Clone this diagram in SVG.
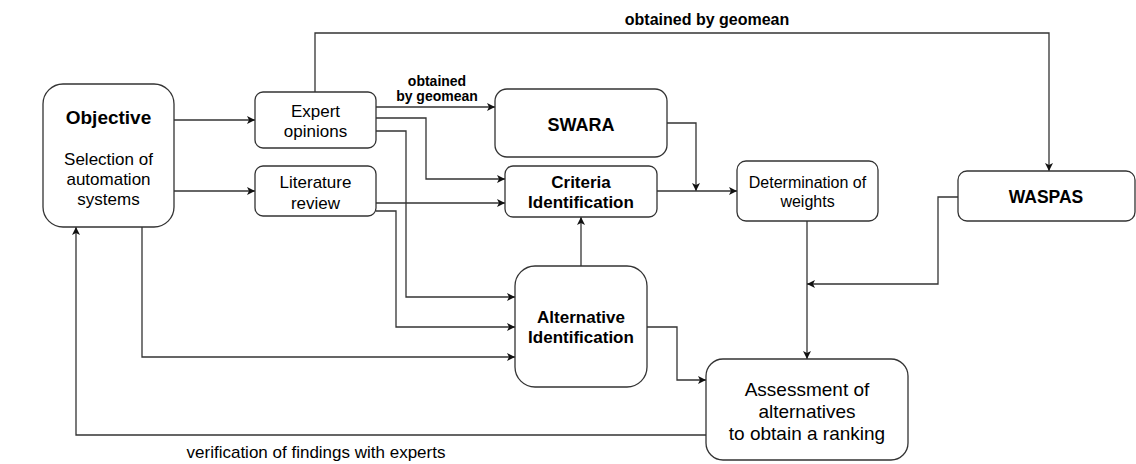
<svg xmlns="http://www.w3.org/2000/svg" width="1136" height="464" viewBox="0 0 1136 464">
<style>
.box{fill:#fff;stroke:#333;stroke-width:1.3}
.t{font-family:"Liberation Sans",Arial,sans-serif;fill:#000;text-anchor:middle}
.b{font-weight:bold}
.c{fill:none;stroke:#333;stroke-width:1.3}
</style>
<defs>
<marker id="ar" viewBox="0 0 10 10" refX="10" refY="5" markerWidth="8" markerHeight="8" markerUnits="userSpaceOnUse" orient="auto">
<path d="M0,0 L10,5 L0,10 L2.5,5 Z" fill="#111"/>
</marker>
</defs>
<rect width="1136" height="464" fill="#fff"/>
<g id="connectors">
<path class="c" d="M174 120 H255" marker-end="url(#ar)"/>
<path class="c" d="M174 191 H255" marker-end="url(#ar)"/>
<path class="c" d="M315 92 V33 H1049 V171" marker-end="url(#ar)"/>
<path class="c" d="M376 107 H495" marker-end="url(#ar)"/>
<path class="c" d="M376 118 H426 V179 H505" marker-end="url(#ar)"/>
<path class="c" d="M376 131 H406 V297 H515" marker-end="url(#ar)"/>
<path class="c" d="M376 203 H505" marker-end="url(#ar)"/>
<path class="c" d="M376 211 H396 V327 H515" marker-end="url(#ar)"/>
<path class="c" d="M142 227 V357 H515" marker-end="url(#ar)"/>
<path class="c" d="M581 266 V217" marker-end="url(#ar)"/>
<path class="c" d="M667 123 H696 V191" marker-end="url(#ar)"/>
<path class="c" d="M657 191 H737" marker-end="url(#ar)"/>
<path class="c" d="M807 221 V359" marker-end="url(#ar)"/>
<path class="c" d="M958 197 H938 V284 H807" marker-end="url(#ar)"/>
<path class="c" d="M647 327 H677 V380 H706" marker-end="url(#ar)"/>
<path class="c" d="M706 435 H76 V227" marker-end="url(#ar)"/>
<text class="t b" x="707" y="25" font-size="16">obtained by geomean</text>
<text class="t b" x="437" y="86" font-size="14">obtained</text>
<text class="t b" x="437" y="101" font-size="14">by geomean</text>
<text class="t" x="316" y="458" font-size="17">verification of findings with experts</text>
</g>
<g id="objective">
<rect class="box" x="43" y="84" width="131" height="143" rx="20"/>
<text class="t b" x="108.5" y="124" font-size="19">Objective</text>
<text class="t" x="108.5" y="165" font-size="17">Selection of</text>
<text class="t" x="108.5" y="185" font-size="17">automation</text>
<text class="t" x="108.5" y="205" font-size="17">systems</text>
</g>
<g id="expert">
<rect class="box" x="255" y="92" width="121" height="56" rx="8"/>
<text class="t" x="315.5" y="117" font-size="17">Expert</text>
<text class="t" x="315.5" y="137" font-size="17">opinions</text>
</g>
<g id="literature">
<rect class="box" x="255" y="166" width="121" height="50" rx="8"/>
<text class="t" x="315.5" y="188" font-size="17">Literature</text>
<text class="t" x="315.5" y="209" font-size="17">review</text>
</g>
<g id="swara">
<rect class="box" x="495" y="89" width="172" height="68" rx="12"/>
<text class="t b" x="581" y="131" font-size="18">SWARA</text>
</g>
<g id="criteria">
<rect class="box" x="505" y="166" width="152" height="51" rx="8"/>
<text class="t b" x="581" y="188" font-size="17">Criteria</text>
<text class="t b" x="581" y="208" font-size="17">Identification</text>
</g>
<g id="determination">
<rect class="box" x="737" y="161" width="141" height="60" rx="9"/>
<text class="t" x="807.5" y="188" font-size="16">Determination of</text>
<text class="t" x="807.5" y="207" font-size="16">weights</text>
</g>
<g id="waspas">
<rect class="box" x="958" y="171" width="177" height="50" rx="9"/>
<text class="t b" x="1046" y="203" font-size="17.5">WASPAS</text>
</g>
<g id="alternative">
<rect class="box" x="515" y="266" width="132" height="121" rx="20"/>
<text class="t b" x="581" y="323" font-size="17">Alternative</text>
<text class="t b" x="581" y="343" font-size="17">Identification</text>
</g>
<g id="assessment">
<rect class="box" x="706" y="359" width="202" height="101" rx="17"/>
<text class="t" x="807" y="396" font-size="19">Assessment of</text>
<text class="t" x="807" y="418" font-size="19">alternatives</text>
<text class="t" x="807" y="440" font-size="19">to obtain a ranking</text>
</g>
</svg>
